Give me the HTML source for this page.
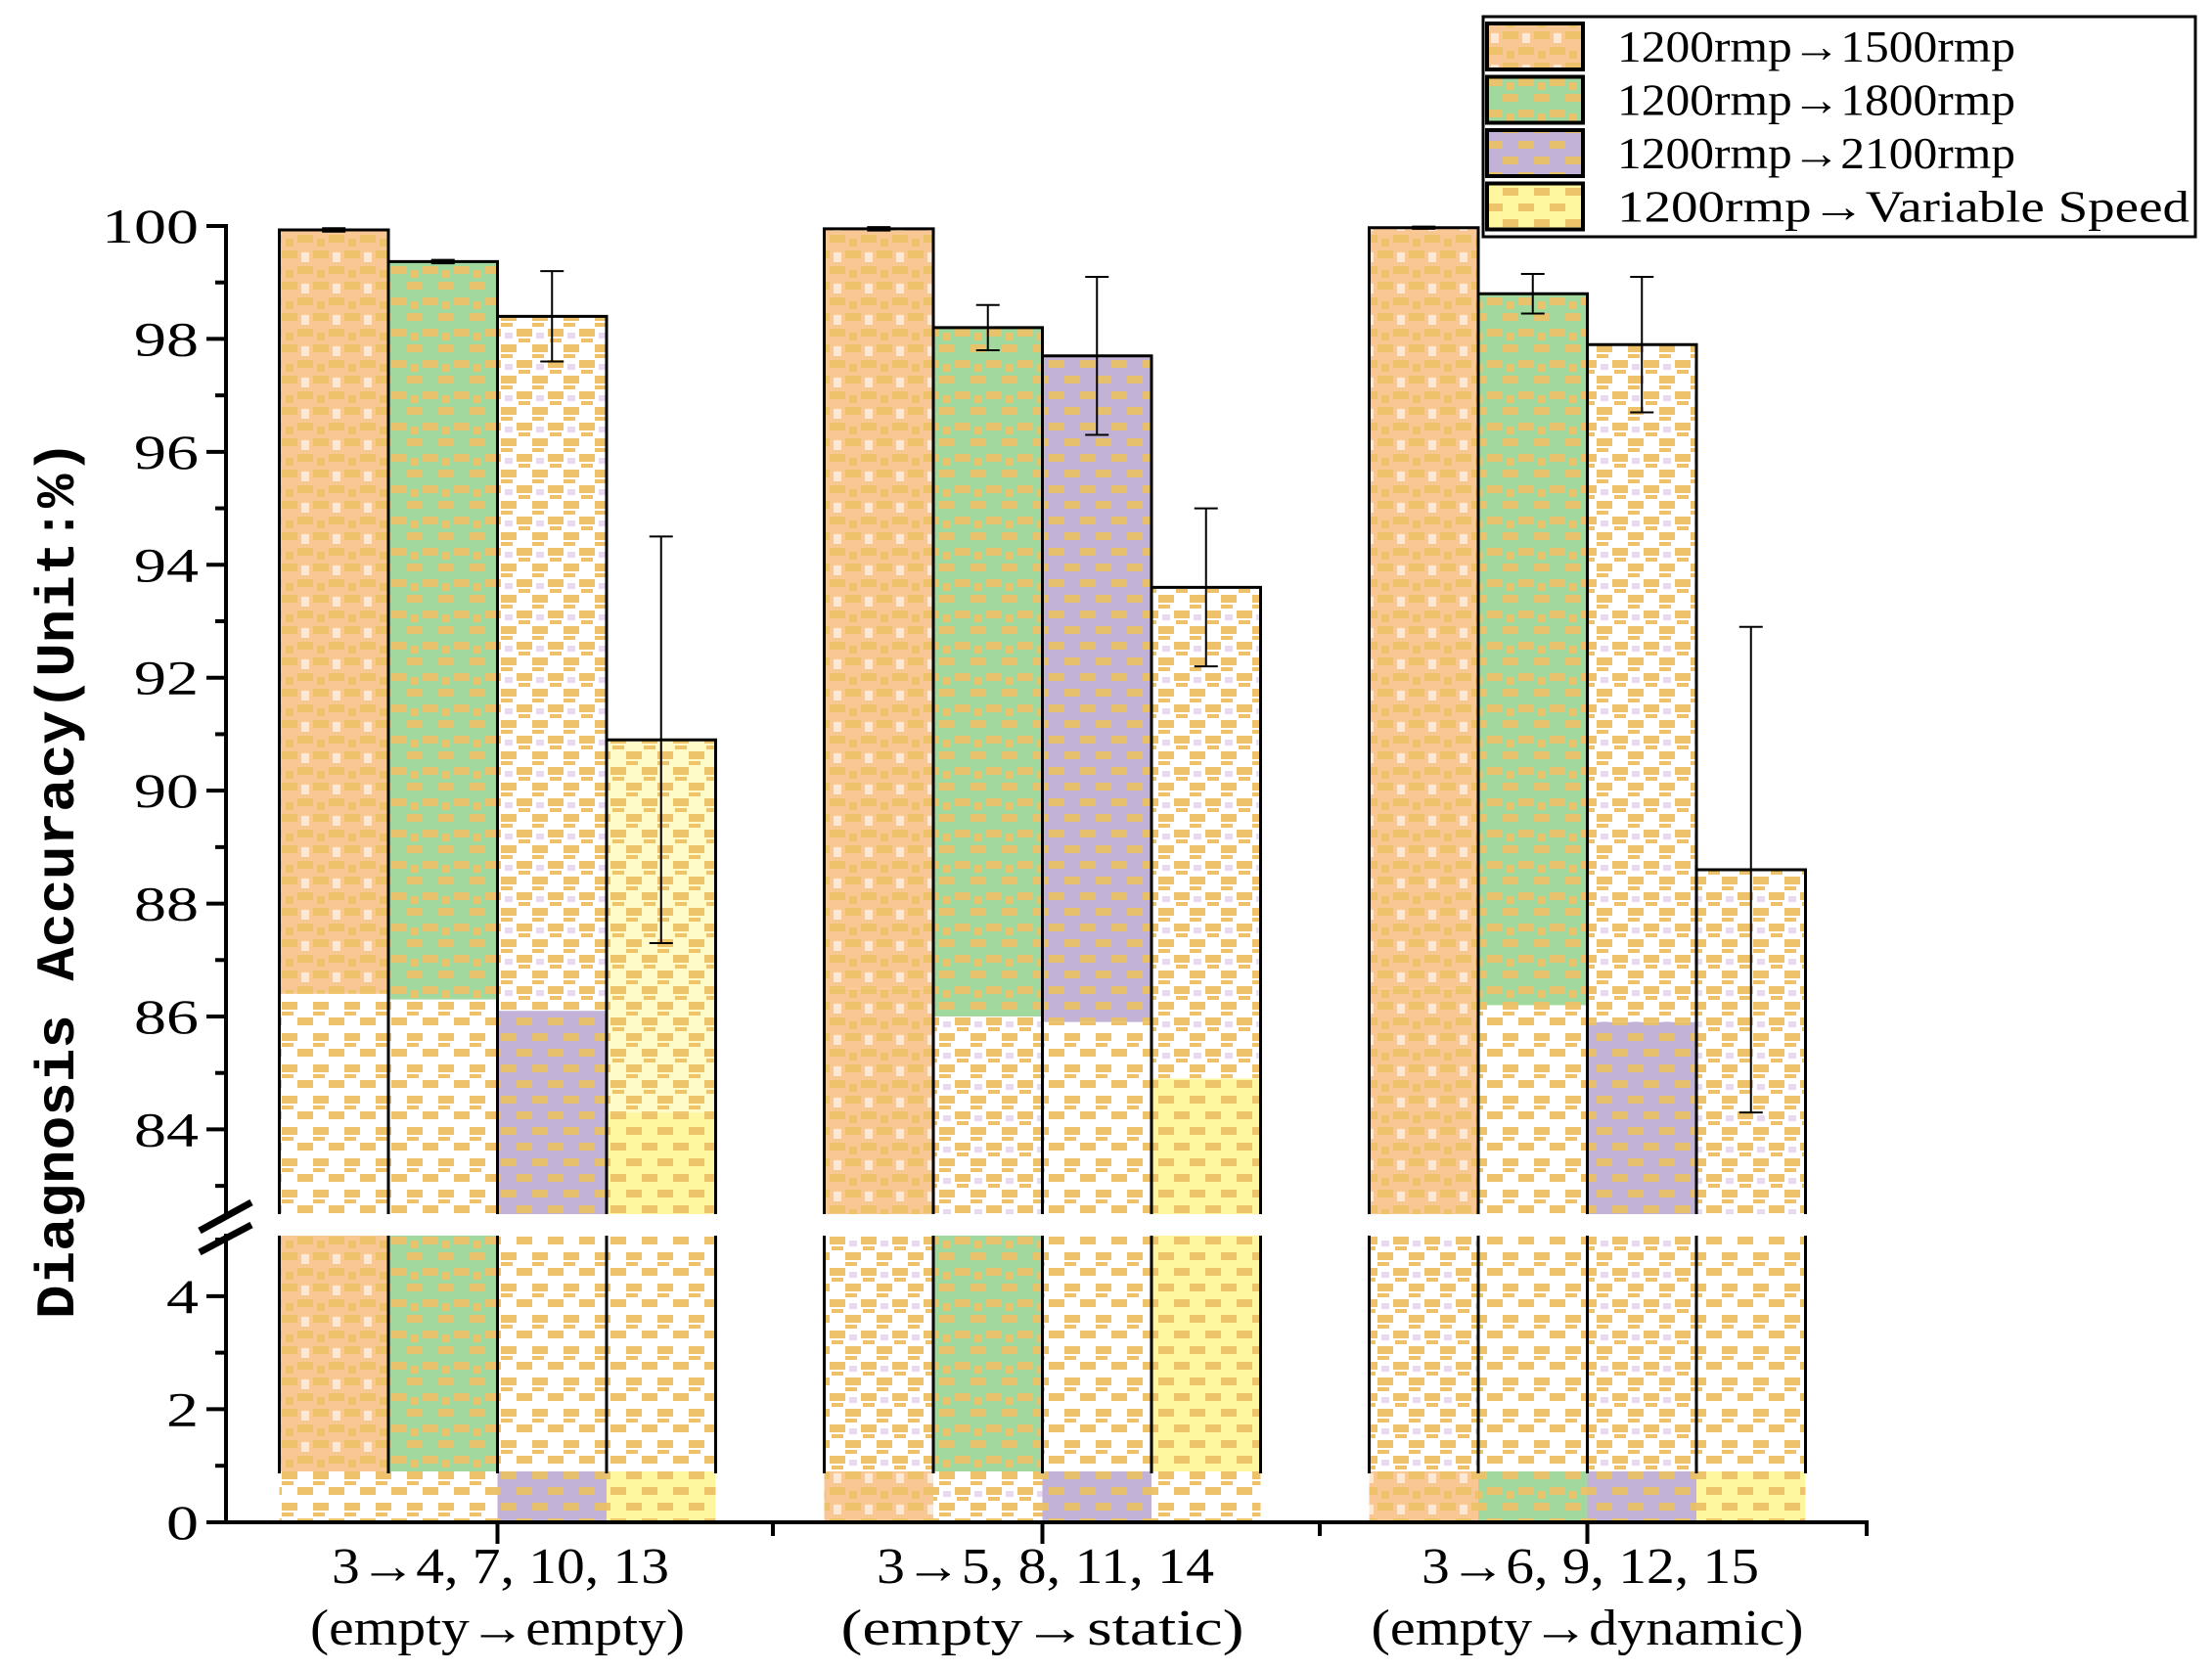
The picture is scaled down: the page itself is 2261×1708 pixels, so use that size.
<!DOCTYPE html>
<html><head><meta charset="utf-8"><style>html,body{margin:0;padding:0;background:#fff}svg{display:block}</style></head>
<body>
<svg id="chart" width="2261" height="1708" viewBox="0 0 2261 1708" xmlns="http://www.w3.org/2000/svg" font-family="'Liberation Serif','Noto Serif CJK SC',serif">
<defs>
<pattern id="p0" width="32" height="32" patternUnits="userSpaceOnUse"><rect width="32" height="32" fill="#f9c794"/><rect x="0" y="0" width="16" height="8" fill="#edc26a"/><rect x="16" y="16" width="16" height="8" fill="#edc26a"/><rect x="20" y="2" width="8" height="10" fill="#fde8d4"/><rect x="4" y="20" width="8" height="8" fill="#edc26a"/></pattern>
<pattern id="p1" width="32" height="32" patternUnits="userSpaceOnUse"><rect width="32" height="32" fill="#a0d89e"/><rect x="0" y="0" width="16" height="8" fill="#e8c36c"/><rect x="16" y="16" width="16" height="8" fill="#e8c36c"/><rect x="4" y="20" width="8" height="8" fill="#e8c36c"/></pattern>
<pattern id="p2" width="32" height="32" patternUnits="userSpaceOnUse"><rect width="32" height="32" fill="#fff"/><rect x="0" y="0" width="16" height="8" fill="#edc26a"/><rect x="16" y="16" width="16" height="8" fill="#edc26a"/><rect x="0" y="10" width="12" height="4" fill="#edc26a"/><rect x="18" y="26" width="12" height="4" fill="#edc26a"/><rect x="4" y="20" width="8" height="6" fill="#e8d8f0"/></pattern>
<pattern id="p3" width="32" height="32" patternUnits="userSpaceOnUse"><rect width="32" height="32" fill="#fffbc8"/><rect x="0" y="0" width="16" height="8" fill="#eec46a"/><rect x="16" y="16" width="16" height="8" fill="#eec46a"/><rect x="0" y="10" width="12" height="4" fill="#eec46a"/><rect x="18" y="26" width="12" height="4" fill="#eec46a"/></pattern>
<pattern id="q0" width="32" height="32" patternUnits="userSpaceOnUse"><rect width="32" height="32" fill="#fff"/><rect x="0" y="0" width="16" height="8" fill="#edc26a"/><rect x="16" y="16" width="16" height="8" fill="#edc26a"/><rect x="0" y="10" width="12" height="4" fill="#edc26a"/></pattern>
<pattern id="q2" width="32" height="32" patternUnits="userSpaceOnUse"><rect width="32" height="32" fill="#c3b2d8"/><rect x="0" y="0" width="16" height="8" fill="#e6c06c"/><rect x="16" y="16" width="16" height="8" fill="#e6c06c"/></pattern>
<pattern id="q3" width="32" height="32" patternUnits="userSpaceOnUse"><rect width="32" height="32" fill="#fff7a0"/><rect x="0" y="0" width="16" height="8" fill="#eec46a"/><rect x="16" y="16" width="16" height="8" fill="#eec46a"/></pattern>
</defs>
<g id="bars"></g>
<g id="axes"></g>
<g id="legend"></g>
</svg>
<script>
const categories1 = ["3\u21924, 7, 10, 13","3\u21925, 8, 11, 14","3\u21926, 9, 12, 15"];
const categories2 = ["(empty\u2192empty)","(empty\u2192static)","(empty\u2192dynamic)"];
const seriesNames = ["1200rmp\u21921500rmp","1200rmp\u21921800rmp","1200rmp\u21922100rmp","1200rmp\u2192Variable Speed"];
const s1500 = [99.93, 99.95, 99.97];
const s1800 = [99.37, 98.2, 98.8];
const s2100 = [98.4, 97.7, 97.9];
const sVar = [90.9, 93.6, 88.6];
const e1500 = [0.03, 0.03, 0.02];
const e1800 = [0.03, 0.4, 0.35];
const e2100 = [0.8, 1.4, 1.2];
const eVar = [3.6, 1.4, 4.3];
const upperTicks = [84, 86, 88, 90, 92, 94, 96, 98, 100];
const lowerTicks = [0, 2, 4];

const NS = "http://www.w3.org/2000/svg";
function mk(tag, attrs, parent, txt){const e=document.createElementNS(NS,tag);for(const k in attrs)e.setAttribute(k,attrs[k]);if(txt!==undefined)e.textContent=txt;parent.appendChild(e);return e;}
const AX = 231, XEND = 1908;
const UP_MIN = 82.5, UP_MAX = 100, UP_Y0 = 1241, UP_Y100 = 231;
const LO_MAX = 5.07, LO_Y0 = 1556, LO_TOP = 1263;
const PPU = (UP_Y0 - UP_Y100) / (UP_MAX - UP_MIN);
function yUp(v){return UP_Y0 - (Math.min(v,UP_MAX+0.5) - UP_MIN) * PPU;}
function yLo(v){return LO_Y0 - v * (LO_Y0 - LO_TOP) / LO_MAX;}
function yAny(v){return v >= UP_MIN ? yUp(v) : yLo(v);}
const groupStart0 = 285.5, groupStep = 557, barW = 111.5;
function xBar(g, s){return groupStart0 + g * groupStep + s * barW;}

// style lookups (per group, per series)
const FU = [["p0","p1","p2","p3"],["p0","p1","q2","p2"],["p0","p1","p2","p2"]];
const FL = [["q0","q0","q2","q3"],["p0","p2","q0","q3"],["p0","q0","q2","p2"]];
const FB = [["p0","p1","q0","q0"],["p2","p1","q0","q3"],["p2","q0","p2","q0"]];
const FS = [["q0","q0","q2","q3"],["p0","p2","q2","q0"],["p0","p1","q2","q3"]];
const SPLIT = [[86.4,86.3,86.1,84.3],[86.5,86.0,85.9,84.9],[86.5,86.2,85.9,83.8]];
const bars = document.getElementById('bars');
const allS = [s1500, s1800, s2100, sVar];
const allE = [e1500, e1800, e2100, eVar];
for (let g = 0; g < 3; g++) {
  for (let s = 0; s < 4; s++) {
    const v = allS[s][g], x = xBar(g, s), yt = yUp(v);
    const split = yUp(SPLIT[g][s]);
    let r = mk('rect', {x:x, y:yt, width:barW, height:Math.max(0, split-yt), fill:'url(#'+FU[g][s]+')'}, bars);
    
    
    let r2 = mk('rect', {x:x, y:split, width:barW, height:UP_Y0-split, fill:'url(#'+FL[g][s]+')'}, bars);
    
    
    let r3 = mk('rect', {x:x, y:LO_TOP, width:barW, height:LO_Y0-LO_TOP-52, fill:'url(#'+FB[g][s]+')'}, bars);
    
    
    let r4 = mk('rect', {x:x, y:LO_Y0-52, width:barW, height:50, fill:'url(#'+FS[g][s]+')'}, bars);
    
    
    const o = mk('path', {d:`M${x} ${UP_Y0} V${yt} H${x+barW} V${UP_Y0} M${x} ${LO_TOP} V${LO_Y0-50} M${x+barW} ${LO_TOP} V${LO_Y0-50}`, fill:'none', stroke:'#000', 'stroke-width':3}, bars);
    
    
    const e = allE[s][g], cx = x + barW/2;
    const y1 = yAny(v + e), y2 = yAny(v - e);
    const eb = mk('path', {d:`M${cx} ${y1} V${y2} M${cx-12} ${y1} H${cx+12} M${cx-12} ${y2} H${cx+12}`, stroke:'#000', 'stroke-width':2, fill:'none'}, bars);
    
    
  }
}

const axes = document.getElementById('axes');
mk('path', {d:`M${AX} ${UP_Y100-2} V${UP_Y0+2} M${AX} ${LO_TOP-2} V${LO_Y0+2} M${AX-3} ${LO_Y0} H${XEND+2}`, stroke:'#000', 'stroke-width':4, fill:'none'}, axes);
mk('path', {d:`M204 1258 L257 1229 M204 1280 L257 1252`, stroke:'#000', 'stroke-width':7, fill:'none'}, axes);
function tickLabel(t, y){
  const str = String(t);
  const lb = mk('text', {x:AX-28, y:y+17, 'text-anchor':'end', 'font-size':50, textLength:str.length*33, lengthAdjust:'spacingAndGlyphs'}, axes, str);
  
  
}
upperTicks.forEach(t => {
  const y = yUp(t);
  mk('path', {d:`M${AX-20} ${y} H${AX}`, stroke:'#000', 'stroke-width':4}, axes);
  if (t < 100) mk('path', {d:`M${AX-11} ${yUp(t+1)} H${AX}`, stroke:'#000', 'stroke-width':4}, axes);
  tickLabel(t, y);
});
mk('path', {d:`M${AX-11} ${yUp(83)} H${AX}`, stroke:'#000', 'stroke-width':4}, axes);
lowerTicks.forEach(t => {
  const y = yLo(t);
  mk('path', {d:`M${AX-20} ${y} H${AX}`, stroke:'#000', 'stroke-width':4}, axes);
  mk('path', {d:`M${AX-11} ${yLo(t+1)} H${AX}`, stroke:'#000', 'stroke-width':4}, axes);
  tickLabel(t, y);
});
const l2len = [383, 412, 442];
for (let g = 0; g < 3; g++) {
  const c = groupStart0 + g*groupStep + 2*barW;
  const edge = AX + (g+1)*(XEND-AX)/3;
  mk('path', {d:`M${c} ${LO_Y0} V${LO_Y0+22} M${edge} ${LO_Y0} V${LO_Y0+14}`, stroke:'#000', 'stroke-width':4}, axes);
  const l1 = mk('text', {x:c+3, y:1618, 'text-anchor':'middle', 'font-size':52, textLength:345, lengthAdjust:'spacingAndGlyphs'}, axes, categories1[g]);
  
  
  const l2 = mk('text', {x:c, y:1681, 'text-anchor':'middle', 'font-size':52, textLength:l2len[g], lengthAdjust:'spacingAndGlyphs'}, axes, categories2[g]);
  
  
}
const yt = mk('text', {x:0, y:0, transform:'translate(75,899) rotate(-90)', 'text-anchor':'middle', 'font-size':56, 'font-weight':'bold', textLength:898, lengthAdjust:'spacingAndGlyphs', 'font-family':"'Liberation Mono',monospace"}, axes, 'Diagnosis Accuracy(Unit:%)');



const lg = document.getElementById('legend');
mk('rect', {x:1516, y:17, width:728, height:225, fill:'#fff', stroke:'#000', 'stroke-width':3}, lg);
const swF = ["url(#p0)","url(#p1)","url(#q2)","url(#q3)"];
const tl = [407, 407, 407, 585];
seriesNames.forEach((n, i) => {
  const y = 24 + i*54.5;
  const sw = mk('rect', {x:1520, y:y, width:98, height:47, fill:swF[i], stroke:'#000', 'stroke-width':4}, lg);
  
  
  const t = mk('text', {x:1653, y:y+39, 'font-size':46, textLength:tl[i], lengthAdjust:'spacingAndGlyphs'}, lg, n);
  
  
});
</script>
</body></html>
